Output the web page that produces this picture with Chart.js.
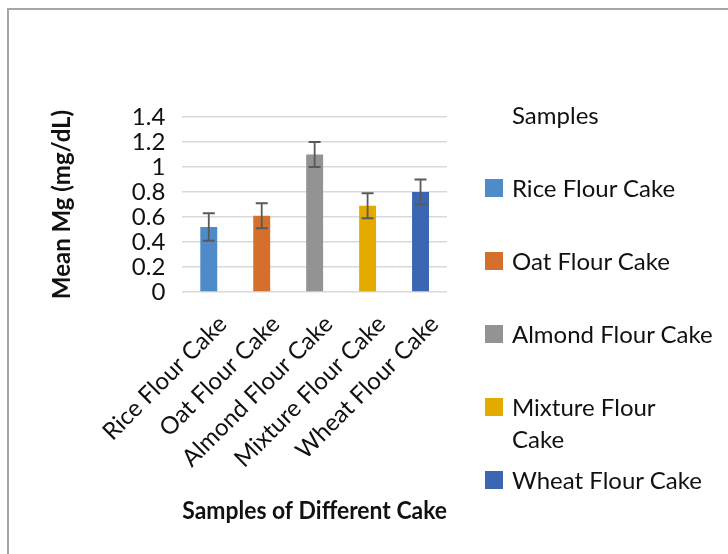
<!DOCTYPE html>
<html>
<head>
<meta charset="utf-8">
<script src="https://cdn.jsdelivr.net/npm/chart.js@4"></script>
<style>
  html, body { margin: 0; padding: 0; background: #fff; }
  body { width: 728px; height: 554px; position: relative; overflow: hidden; font-family: Lato, "Open Sans", sans-serif; }
  #frame { position: absolute; left: 7px; top: 8px; width: 740px; height: 560px; border-top: 2px solid #a6a6a6; border-left: 2px solid #a6a6a6; }
  #wrap { position: absolute; left: 0; top: 0; width: 728px; height: 554px; }
  #legend { position: absolute; left: 485px; top: 96px; color: #111; font-size: 24px; }
  #legend .title { padding-left: 27px; height: 76px; line-height: 38px; }
  #legend .item { position: relative; height: 73px; line-height: 32px; padding-left: 27px; }
  #legend .box { position: absolute; left: 0; top: 7px; width: 18px; height: 18px; }
</style>
</head>
<body>
<div id="frame"></div>
<div id="wrap"><canvas id="chart" width="728" height="554"></canvas></div>
<div id="legend"></div>
<script>
const categories = ['Rice Flour Cake', 'Oat Flour Cake', 'Almond Flour Cake', 'Mixture Flour Cake', 'Wheat Flour Cake'];
const legendLines = [['Rice Flour Cake'], ['Oat Flour Cake'], ['Almond Flour Cake'], ['Mixture Flour', 'Cake'], ['Wheat Flour Cake']];
const meanMg = [0.52, 0.61, 1.10, 0.69, 0.80];
const errMg = [0.11, 0.10, 0.10, 0.10, 0.10];
const colors = ['#4e8bc8', '#d4702c', '#939393', '#e3aa00', '#3b66b4'];
const yTicks = [0, 0.2, 0.4, 0.6, 0.8, 1, 1.2, 1.4];

const FONT = 'Lato, "Open Sans", sans-serif';

// error bars drawn on top of the bars from the y scale
const errorBars = {
  id: 'errorBars',
  afterDatasetsDraw(chart) {
    const ctx = chart.ctx;
    const y = chart.scales.y;
    const meta = chart.getDatasetMeta(0);
    ctx.save();
    ctx.strokeStyle = '#595959';
    ctx.lineWidth = 1.8;
    meta.data.forEach((bar, i) => {
      const top = y.getPixelForValue(meanMg[i] + errMg[i]);
      const bottom = y.getPixelForValue(meanMg[i] - errMg[i]);
      const cap = 6;
      ctx.beginPath();
      ctx.moveTo(bar.x, top);
      ctx.lineTo(bar.x, bottom);
      ctx.moveTo(bar.x - cap, top);
      ctx.lineTo(bar.x + cap, top);
      ctx.moveTo(bar.x - cap, bottom);
      ctx.lineTo(bar.x + cap, bottom);
      ctx.stroke();
    });
    ctx.restore();
  }
};

new Chart(document.getElementById('chart').getContext('2d'), {
  type: 'bar',
  data: {
    labels: categories,
    datasets: [{
      label: 'Samples',
      data: meanMg,
      backgroundColor: colors,
      categoryPercentage: 1,
      barPercentage: 0.32,
    }]
  },
  options: {
    responsive: false,
    animation: false,
    layout: { padding: { left: 48, right: 281, top: 117, bottom: 28 } },
    plugins: {
      legend: { display: false },
      tooltip: { enabled: false },
    },
    scales: {
      x: {
        // rotated labels hang left of the plot, like Excel; keep room for labels + title
        afterFit: scale => { scale.paddingLeft = 0; scale.height = 234; },
        grid: { display: false, drawTicks: false },
        border: { display: false },
        ticks: {
          color: '#111',
          font: { family: FONT, size: 24 },
          minRotation: 45,
          maxRotation: 45,
          autoSkip: false,
          padding: 18,
          labelOffset: 14,
        },
        title: {
          display: true,
          text: 'Samples of Different Cake',
          color: '#111',
          font: { family: FONT, size: 25, weight: 'bold' },
          padding: { top: 20, bottom: 0 },
        },
      },
      y: {
        min: 0,
        max: 1.4,
        afterBuildTicks: axis => { axis.ticks = yTicks.map(v => ({ value: v })); },
        grid: { color: '#d9d9d9', lineWidth: 1.5, drawTicks: false },
        border: { display: false },
        ticks: {
          color: '#111',
          font: { family: FONT, size: 24 },
          padding: 17,
          autoSkip: false,
          callback: v => String(+v.toFixed(1)),
        },
        title: {
          display: true,
          text: 'Mean Mg (mg/dL)',
          color: '#111',
          font: { family: FONT, size: 24, weight: 'bold' },
          padding: { top: 0, bottom: 38 },
        },
      },
    },
  },
  plugins: [errorBars],
});

// legend on the right, Excel style
const legend = document.getElementById('legend');
legend.innerHTML = '<div class="title">Samples</div>' + legendLines.map((lines, i) =>
  `<div class="item"><span class="box" style="background:${colors[i]}"></span>${lines.join('<br>')}</div>`
).join('');
</script>
</body>
</html>
